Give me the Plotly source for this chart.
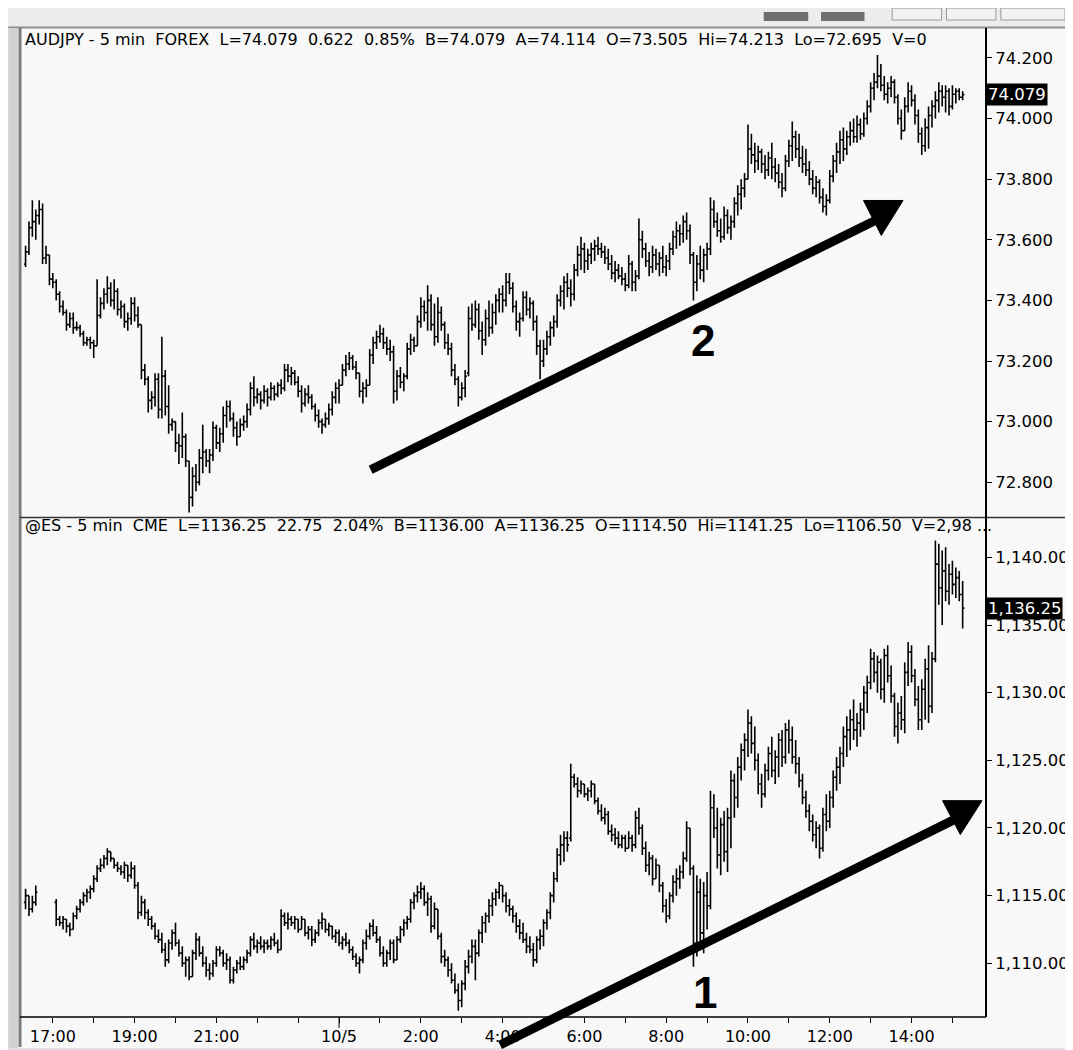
import pandas as pd
import plotly.graph_objects as go
from plotly.subplots import make_subplots

# ---------------- data ----------------
AUD_START = "2010-10-04 16:20"
AUD_LOW = [
    73.51, 73.55, 73.61, 73.60, 73.65, 73.52, 73.52, 73.45, 73.44, 73.40,
    73.36, 73.35, 73.30, 73.31, 73.29, 73.30, 73.28, 73.25, 73.25, 73.24,
    73.21, 73.25, 73.34, 73.37, 73.39, 73.38, 73.37, 73.35, 73.34, 73.31,
    73.30, 73.32, 73.33, 73.31, 73.14, 73.12, 73.03, 73.04, 73.05, 73.01,
    73.01, 73.02, 72.96, 72.97, 72.90, 72.86, 72.88, 72.85, 72.70, 72.72,
    72.77, 72.79, 72.83, 72.85, 72.83, 72.87, 72.91, 72.90, 72.93, 72.98,
    73.00, 72.95, 72.92, 72.95, 72.97, 72.98, 73.02, 73.05, 73.06, 73.04,
    73.06, 73.05, 73.07, 73.07, 73.08, 73.09, 73.10, 73.13, 73.12, 73.12,
    73.08, 73.03, 73.05, 73.06, 73.04, 73.00, 72.98, 72.96, 72.98, 72.99,
    73.02, 73.06, 73.06, 73.12, 73.15, 73.17, 73.17, 73.14, 73.08, 73.06,
    73.08, 73.12, 73.19, 73.24, 73.26, 73.24, 73.22, 73.20, 73.06, 73.07,
    73.11, 73.10, 73.14, 73.22, 73.23, 73.25, 73.31, 73.33, 73.30, 73.30,
    73.25, 73.26, 73.30, 73.24, 73.22, 73.15, 73.12, 73.05, 73.07, 73.08,
    73.15, 73.30, 73.31, 73.27, 73.22, 73.25, 73.28, 73.29, 73.32, 73.36,
    73.36, 73.38, 73.42, 73.36, 73.30, 73.28, 73.33, 73.35, 73.34, 73.30,
    73.22, 73.14, 73.18, 73.22, 73.25, 73.28, 73.31, 73.38, 73.37, 73.41,
    73.38, 73.40, 73.48, 73.50, 73.49, 73.50, 73.52, 73.53, 73.55, 73.54,
    73.52, 73.50, 73.47, 73.46, 73.47, 73.45, 73.43, 73.44, 73.43, 73.43,
    73.47, 73.54, 73.51, 73.48, 73.49, 73.50, 73.48, 73.49, 73.48, 73.50,
    73.55, 73.57, 73.58, 73.59, 73.60, 73.52, 73.40, 73.43, 73.47, 73.46,
    73.50, 73.55, 73.64, 73.61, 73.59, 73.60, 73.62, 73.60, 73.64, 73.68,
    73.70, 73.74, 73.80, 73.85, 73.82, 73.83, 73.82, 73.80, 73.81, 73.80,
    73.79, 73.77, 73.74, 73.76, 73.84, 73.86, 73.87, 73.84, 73.82, 73.81,
    73.78, 73.75, 73.74, 73.72, 73.69, 73.68, 73.72, 73.79, 73.82, 73.85,
    73.86, 73.88, 73.91, 73.92, 73.92, 73.93, 73.94, 73.98, 74.02, 74.06,
    74.10, 74.09, 74.06, 74.05, 74.07, 74.05, 73.98, 73.93, 73.96, 74.02,
    74.04, 73.98, 73.92, 73.88, 73.89, 73.90, 73.97, 74.00, 74.02, 74.04,
    74.02, 74.01, 74.03, 74.05, 74.06, 74.06,
]
AUD_HIGH = [
    73.58, 73.66, 73.73, 73.70, 73.73, 73.72, 73.58, 73.55, 73.49, 73.47,
    73.43, 73.40, 73.37, 73.36, 73.36, 73.33, 73.32, 73.30, 73.28, 73.28,
    73.27, 73.47, 73.41, 73.44, 73.48, 73.46, 73.47, 73.44, 73.40, 73.39,
    73.36, 73.41, 73.41, 73.38, 73.32, 73.19, 73.15, 73.10, 73.16, 73.16,
    73.28, 73.17, 73.12, 73.01, 73.00, 72.96, 73.03, 72.96, 72.87, 72.85,
    72.86, 72.91, 72.99, 72.91, 72.91, 73.00, 72.99, 72.98, 73.05, 73.07,
    73.07, 73.03, 73.00, 73.01, 73.02, 73.06, 73.13, 73.15, 73.11, 73.10,
    73.12, 73.11, 73.13, 73.12, 73.13, 73.14, 73.19, 73.19, 73.18, 73.17,
    73.15, 73.12, 73.11, 73.12, 73.09, 73.06, 73.04, 73.01, 73.03, 73.06,
    73.10, 73.13, 73.14, 73.19, 73.22, 73.23, 73.22, 73.20, 73.16, 73.13,
    73.14, 73.24, 73.28, 73.30, 73.32, 73.31, 73.28, 73.27, 73.25, 73.17,
    73.18, 73.16, 73.26, 73.29, 73.28, 73.35, 73.41, 73.40, 73.45, 73.42,
    73.39, 73.41, 73.38, 73.33, 73.29, 73.26, 73.19, 73.15, 73.13, 73.17,
    73.38, 73.39, 73.40, 73.39, 73.33, 73.37, 73.40, 73.39, 73.42, 73.44,
    73.45, 73.49, 73.49, 73.46, 73.40, 73.36, 73.43, 73.43, 73.41, 73.40,
    73.35, 73.27, 73.27, 73.30, 73.33, 73.35, 73.42, 73.45, 73.48, 73.49,
    73.47, 73.52, 73.58, 73.61, 73.59, 73.57, 73.59, 73.60, 73.61, 73.59,
    73.58, 73.57, 73.55, 73.53, 73.52, 73.51, 73.49, 73.55, 73.53, 73.50,
    73.67, 73.63, 73.59, 73.56, 73.58, 73.57, 73.56, 73.58, 73.55, 73.59,
    73.63, 73.66, 73.65, 73.68, 73.69, 73.65, 73.56, 73.55, 73.58, 73.57,
    73.59, 73.74, 73.73, 73.69, 73.67, 73.71, 73.70, 73.68, 73.74, 73.78,
    73.80, 73.82, 73.98, 73.95, 73.92, 73.91, 73.90, 73.88, 73.89, 73.92,
    73.87, 73.85, 73.82, 73.88, 73.93, 73.99, 73.96, 73.95, 73.91, 73.90,
    73.86, 73.83, 73.81, 73.80, 73.77, 73.75, 73.83, 73.88, 73.92, 73.96,
    73.97, 73.96, 73.99, 74.00, 74.01, 74.00, 74.02, 74.06, 74.12, 74.15,
    74.21, 74.18, 74.14, 74.12, 74.14, 74.13, 74.08, 74.03, 74.07, 74.12,
    74.11, 74.08, 74.03, 73.97, 74.00, 74.04, 74.06, 74.09, 74.12, 74.11,
    74.11, 74.10, 74.11, 74.10, 74.10, 74.09,
]
AUD_OPEN = [
    73.52, 73.56, 73.64, 73.66, 73.68, 73.70, 73.54, 73.55, 73.47, 73.46,
    73.42, 73.38, 73.36, 73.32, 73.34, 73.31, 73.31, 73.29, 73.26, 73.27,
    73.26, 73.25, 73.35, 73.39, 73.42, 73.44, 73.40, 73.43, 73.37, 73.38,
    73.33, 73.34, 73.39, 73.35, 73.32, 73.17, 73.14, 73.07, 73.08, 73.14,
    73.04, 73.15, 73.05, 72.99, 73.00, 72.93, 72.92, 72.95, 72.87, 72.75,
    72.82, 72.80, 72.88, 72.90, 72.87, 72.89, 72.98, 72.93, 72.96, 73.02,
    73.05, 73.01, 72.98, 72.95, 72.99, 73.00, 73.04, 73.11, 73.08, 73.09,
    73.07, 73.10, 73.08, 73.11, 73.09, 73.12, 73.11, 73.17, 73.15, 73.16,
    73.13, 73.10, 73.06, 73.09, 73.08, 73.05, 73.02, 73.00, 72.99, 73.01,
    73.04, 73.08, 73.11, 73.12, 73.17, 73.19, 73.21, 73.18, 73.16, 73.10,
    73.11, 73.12, 73.22, 73.26, 73.28, 73.29, 73.26, 73.24, 73.23, 73.10,
    73.15, 73.13, 73.15, 73.24, 73.27, 73.25, 73.33, 73.38, 73.36, 73.40,
    73.32, 73.28, 73.36, 73.32, 73.26, 73.24, 73.17, 73.14, 73.08, 73.11,
    73.16, 73.34, 73.32, 73.37, 73.30, 73.27, 73.34, 73.31, 73.36, 73.40,
    73.42, 73.40, 73.46, 73.44, 73.38, 73.33, 73.34, 73.41, 73.37, 73.39,
    73.33, 73.25, 73.20, 73.24, 73.28, 73.31, 73.33, 73.40, 73.43, 73.46,
    73.44, 73.42, 73.50, 73.55, 73.57, 73.53, 73.55, 73.57, 73.58, 73.57,
    73.56, 73.54, 73.52, 73.49, 73.50, 73.48, 73.47, 73.45, 73.52, 73.46,
    73.48, 73.60, 73.57, 73.53, 73.51, 73.55, 73.52, 73.54, 73.51, 73.53,
    73.57, 73.61, 73.63, 73.62, 73.66, 73.63, 73.55, 73.46, 73.52, 73.50,
    73.55, 73.57, 73.70, 73.66, 73.63, 73.61, 73.68, 73.64, 73.66, 73.72,
    73.75, 73.77, 73.80, 73.90, 73.88, 73.86, 73.89, 73.85, 73.83, 73.87,
    73.84, 73.82, 73.79, 73.77, 73.86, 73.91, 73.94, 73.90, 73.87, 73.85,
    73.83, 73.80, 73.77, 73.79, 73.74, 73.71, 73.73, 73.81, 73.86, 73.89,
    73.93, 73.90, 73.94, 73.96, 73.94, 73.98, 73.95, 74.00, 74.04, 74.10,
    74.12, 74.14, 74.11, 74.08, 74.10, 74.12, 74.07, 74.00, 73.96, 74.04,
    74.09, 74.06, 74.01, 73.95, 73.91, 73.97, 74.01, 74.04, 74.06, 74.09,
    74.07, 74.09, 74.04, 74.08, 74.09, 74.07,
]
AUD_CLOSE = [
    73.56, 73.64, 73.66, 73.68, 73.70, 73.54, 73.55, 73.47, 73.46, 73.42,
    73.38, 73.36, 73.32, 73.34, 73.31, 73.31, 73.29, 73.26, 73.27, 73.26,
    73.25, 73.35, 73.39, 73.42, 73.44, 73.40, 73.43, 73.37, 73.38, 73.33,
    73.34, 73.39, 73.35, 73.32, 73.17, 73.14, 73.07, 73.08, 73.14, 73.04,
    73.15, 73.05, 72.99, 73.00, 72.93, 72.92, 72.95, 72.87, 72.75, 72.82,
    72.80, 72.88, 72.90, 72.87, 72.89, 72.98, 72.93, 72.96, 73.02, 73.05,
    73.01, 72.98, 72.95, 72.99, 73.00, 73.04, 73.11, 73.08, 73.09, 73.07,
    73.10, 73.08, 73.11, 73.09, 73.12, 73.11, 73.17, 73.15, 73.16, 73.13,
    73.10, 73.06, 73.09, 73.08, 73.05, 73.02, 73.00, 72.99, 73.01, 73.04,
    73.08, 73.11, 73.12, 73.17, 73.19, 73.21, 73.18, 73.16, 73.10, 73.11,
    73.12, 73.22, 73.26, 73.28, 73.29, 73.26, 73.24, 73.23, 73.10, 73.15,
    73.13, 73.15, 73.24, 73.27, 73.25, 73.33, 73.38, 73.36, 73.40, 73.32,
    73.28, 73.36, 73.32, 73.26, 73.24, 73.17, 73.14, 73.08, 73.11, 73.15,
    73.34, 73.32, 73.37, 73.30, 73.27, 73.34, 73.31, 73.36, 73.40, 73.42,
    73.40, 73.46, 73.44, 73.38, 73.33, 73.34, 73.41, 73.37, 73.39, 73.33,
    73.25, 73.20, 73.24, 73.28, 73.31, 73.33, 73.40, 73.43, 73.46, 73.44,
    73.42, 73.50, 73.55, 73.57, 73.53, 73.55, 73.57, 73.58, 73.57, 73.56,
    73.54, 73.52, 73.49, 73.50, 73.48, 73.47, 73.45, 73.52, 73.46, 73.48,
    73.60, 73.57, 73.53, 73.51, 73.55, 73.52, 73.54, 73.51, 73.53, 73.57,
    73.61, 73.63, 73.62, 73.66, 73.63, 73.55, 73.46, 73.52, 73.50, 73.55,
    73.57, 73.70, 73.66, 73.63, 73.61, 73.68, 73.64, 73.66, 73.72, 73.75,
    73.77, 73.80, 73.90, 73.88, 73.86, 73.89, 73.85, 73.83, 73.87, 73.84,
    73.82, 73.79, 73.77, 73.86, 73.91, 73.94, 73.90, 73.87, 73.85, 73.83,
    73.80, 73.77, 73.79, 73.74, 73.71, 73.73, 73.81, 73.86, 73.89, 73.93,
    73.90, 73.94, 73.96, 73.94, 73.98, 73.95, 74.00, 74.04, 74.10, 74.12,
    74.14, 74.11, 74.08, 74.10, 74.12, 74.07, 74.00, 73.96, 74.04, 74.09,
    74.06, 74.01, 73.95, 73.91, 73.97, 74.01, 74.04, 74.06, 74.09, 74.07,
    74.09, 74.04, 74.08, 74.09, 74.07, 74.079,
]

# ES: 4 bars before the session break, then continuous from 17:05
ES_START_1, ES_COUNT_1 = "2010-10-04 16:20", 4
ES_START_2 = "2010-10-04 17:05"
ES_LOW = [
    1114.00, 1113.50, 1113.75, 1114.25,
    1112.75, 1112.75, 1112.50, 1112.25, 1112.00, 1112.50, 1113.25, 1113.75, 1114.25, 1114.50,
    1114.75, 1115.25, 1116.00, 1116.75, 1117.00, 1117.25, 1117.50, 1117.00, 1116.75, 1116.50,
    1116.25, 1116.00, 1116.25, 1115.50, 1113.25, 1113.50, 1113.25, 1112.75, 1112.50, 1111.75,
    1111.50, 1110.75, 1109.75, 1110.00, 1111.00, 1111.25, 1110.50, 1109.75, 1109.00, 1108.75,
    1109.00, 1110.25, 1110.50, 1109.75, 1109.00, 1108.75, 1109.00, 1109.75, 1110.50, 1109.75,
    1109.50, 1108.50, 1108.50, 1109.25, 1109.50, 1109.50, 1110.00, 1110.50, 1111.00, 1110.75,
    1111.00, 1110.75, 1111.00, 1111.00, 1111.25, 1110.75, 1111.00, 1112.75, 1112.50, 1112.75,
    1112.50, 1112.25, 1112.50, 1112.00, 1111.75, 1111.25, 1111.50, 1112.00, 1112.50, 1112.25,
    1112.00, 1111.75, 1111.50, 1111.25, 1111.00, 1111.25, 1110.75, 1110.25, 1109.75, 1109.25,
    1110.00, 1111.00, 1111.75, 1112.00, 1111.50, 1110.50, 1109.75, 1109.75, 1110.25, 1110.00,
    1110.25, 1111.50, 1112.00, 1112.50, 1113.00, 1114.00, 1114.50, 1114.75, 1114.25, 1113.50,
    1112.25, 1112.50, 1111.75, 1110.00, 1109.75, 1109.00, 1108.50, 1107.75, 1106.50, 1106.75,
    1108.00, 1109.25, 1110.00, 1108.75, 1110.50, 1111.50, 1112.25, 1113.00, 1113.50, 1114.25,
    1114.75, 1114.50, 1113.75, 1113.50, 1113.00, 1112.25, 1111.75, 1111.50, 1110.75, 1110.75,
    1109.75, 1110.00, 1111.00, 1111.25, 1112.50, 1113.25, 1114.50, 1116.00, 1117.25, 1117.50,
    1118.25, 1119.00, 1123.00, 1122.25, 1122.50, 1122.25, 1122.00, 1122.25, 1121.75, 1121.00,
    1120.50, 1120.25, 1119.50, 1119.00, 1118.75, 1118.50, 1118.50, 1118.25, 1118.50, 1118.25,
    1118.50, 1119.50, 1118.00, 1116.75, 1116.50, 1115.75, 1116.25, 1115.25, 1113.75, 1113.00,
    1113.25, 1114.50, 1115.00, 1115.50, 1116.25, 1117.50, 1116.50, 1109.75, 1110.50, 1111.00,
    1110.75, 1112.50, 1114.00, 1119.25, 1117.00, 1116.50, 1117.50, 1116.75, 1118.50, 1120.75,
    1121.50, 1123.50, 1124.25, 1125.25, 1125.50, 1124.25, 1122.50, 1121.50, 1122.25, 1123.50,
    1123.75, 1123.25, 1123.75, 1124.50, 1124.75, 1125.50, 1124.75, 1124.00, 1123.00, 1121.75,
    1120.75, 1119.75, 1119.00, 1118.50, 1117.75, 1118.25, 1119.75, 1120.00, 1121.50, 1122.75,
    1123.25, 1124.50, 1125.25, 1125.75, 1126.50, 1126.00, 1126.75, 1127.25, 1128.50, 1130.25,
    1130.75, 1130.00, 1129.50, 1129.25, 1130.75, 1129.25, 1126.75, 1126.25, 1127.25, 1127.00,
    1130.50, 1130.75, 1129.00, 1127.25, 1127.25, 1128.00, 1127.75, 1128.50, 1132.25, 1136.50,
    1135.00, 1136.75, 1136.50, 1137.25, 1137.00, 1136.75, 1134.75,
]
ES_HIGH = [
    1115.50, 1115.00, 1115.00, 1115.75,
    1114.75, 1113.50, 1113.50, 1113.25, 1113.00, 1113.75, 1114.25, 1114.75, 1115.25, 1115.50,
    1115.75, 1116.50, 1117.25, 1117.75, 1118.00, 1118.50, 1118.25, 1117.75, 1117.50, 1117.25,
    1117.50, 1117.25, 1117.50, 1117.25, 1116.00, 1115.00, 1114.75, 1114.00, 1113.50, 1113.00,
    1112.50, 1112.25, 1111.50, 1111.75, 1112.50, 1113.00, 1111.75, 1111.25, 1110.50, 1110.50,
    1111.00, 1112.25, 1112.00, 1111.25, 1110.50, 1110.00, 1110.25, 1111.25, 1111.25, 1111.00,
    1110.75, 1110.50, 1109.75, 1110.25, 1110.50, 1110.50, 1111.00, 1112.00, 1112.25, 1111.75,
    1112.00, 1111.75, 1111.75, 1112.00, 1112.25, 1111.75, 1114.00, 1113.75, 1113.75, 1113.50,
    1113.50, 1113.25, 1113.50, 1113.25, 1112.75, 1112.75, 1112.50, 1113.25, 1113.75, 1113.25,
    1113.00, 1112.75, 1112.50, 1112.50, 1112.00, 1112.25, 1111.75, 1111.25, 1110.75, 1110.50,
    1111.75, 1112.50, 1113.00, 1113.25, 1112.75, 1112.00, 1111.25, 1111.00, 1111.75, 1111.75,
    1112.00, 1112.75, 1113.25, 1113.50, 1114.75, 1115.25, 1115.75, 1116.00, 1115.75, 1115.25,
    1115.00, 1114.50, 1114.00, 1112.25, 1111.00, 1110.50, 1110.00, 1109.25, 1108.50, 1108.75,
    1110.25, 1111.00, 1111.75, 1111.75, 1112.50, 1113.50, 1113.75, 1114.75, 1115.25, 1115.50,
    1116.00, 1115.75, 1115.25, 1114.75, 1114.25, 1113.75, 1113.25, 1113.00, 1112.25, 1112.00,
    1111.50, 1112.00, 1112.50, 1113.25, 1114.00, 1115.25, 1116.75, 1118.50, 1119.50, 1119.75,
    1119.75, 1124.75, 1124.00, 1123.75, 1123.50, 1123.25, 1123.00, 1123.50, 1123.25, 1122.25,
    1121.75, 1121.50, 1121.25, 1120.25, 1120.00, 1119.75, 1119.50, 1119.50, 1119.75, 1119.50,
    1121.25, 1121.50, 1120.25, 1119.00, 1118.25, 1118.00, 1117.75, 1117.25, 1116.00, 1114.75,
    1115.25, 1116.50, 1117.00, 1117.25, 1118.25, 1120.50, 1120.00, 1117.25, 1116.50, 1116.25,
    1116.00, 1116.75, 1122.75, 1122.50, 1121.50, 1120.75, 1121.25, 1121.50, 1124.25, 1124.00,
    1125.25, 1126.25, 1127.00, 1128.75, 1128.25, 1127.50, 1125.50, 1124.00, 1124.75, 1126.00,
    1126.75, 1125.75, 1127.00, 1127.25, 1127.75, 1128.00, 1127.50, 1126.50, 1125.25, 1124.00,
    1122.75, 1121.75, 1121.00, 1120.50, 1120.25, 1121.50, 1122.50, 1122.75, 1124.25, 1125.25,
    1126.00, 1127.50, 1128.25, 1128.75, 1129.50, 1128.50, 1129.25, 1130.50, 1131.25, 1133.25,
    1133.00, 1132.75, 1132.50, 1133.25, 1133.50, 1132.00, 1130.00, 1129.25, 1129.75, 1132.25,
    1133.75, 1133.50, 1131.75, 1130.50, 1131.00, 1132.50, 1133.50, 1133.00, 1141.25, 1141.00,
    1140.50, 1140.75, 1139.50, 1139.75, 1139.25, 1139.00, 1138.25,
]
ES_OPEN = [
    1114.50, 1115.00, 1114.00, 1114.50,
    1114.50, 1113.25, 1113.00, 1113.25, 1112.75, 1112.50, 1113.50, 1114.00, 1114.50, 1115.00,
    1115.25, 1115.50, 1116.25, 1117.00, 1117.25, 1117.75, 1118.25, 1117.75, 1117.25, 1117.00,
    1116.75, 1117.25, 1116.50, 1117.00, 1115.75, 1113.75, 1114.50, 1113.75, 1113.25, 1112.75,
    1112.00, 1111.75, 1111.00, 1110.25, 1111.50, 1112.25, 1111.50, 1110.75, 1110.00, 1110.25,
    1109.00, 1110.75, 1111.75, 1110.75, 1110.00, 1109.50, 1109.25, 1110.00, 1111.00, 1110.75,
    1110.00, 1110.25, 1108.75, 1109.50, 1110.00, 1109.75, 1110.25, 1110.75, 1111.75, 1111.25,
    1111.50, 1111.25, 1111.50, 1111.25, 1111.75, 1111.50, 1111.00, 1113.50, 1113.00, 1113.25,
    1113.00, 1113.25, 1112.50, 1113.25, 1112.25, 1112.50, 1111.75, 1112.25, 1113.00, 1113.25,
    1112.50, 1112.75, 1112.00, 1112.25, 1111.50, 1111.75, 1111.50, 1111.00, 1110.50, 1110.00,
    1110.25, 1111.50, 1112.00, 1112.75, 1112.25, 1111.75, 1110.75, 1110.00, 1110.75, 1111.50,
    1110.25, 1111.75, 1112.50, 1113.00, 1113.25, 1114.50, 1115.00, 1115.25, 1115.50, 1114.50,
    1114.75, 1112.75, 1114.00, 1112.00, 1110.50, 1110.25, 1109.50, 1108.75, 1108.00, 1107.25,
    1108.50, 1109.75, 1110.50, 1111.25, 1110.75, 1112.25, 1113.00, 1113.50, 1114.25, 1114.75,
    1115.25, 1115.75, 1115.00, 1114.25, 1114.00, 1113.50, 1112.75, 1112.25, 1111.75, 1111.25,
    1111.00, 1110.25, 1111.75, 1112.00, 1113.00, 1113.75, 1115.00, 1116.25, 1118.00, 1118.75,
    1119.25, 1119.25, 1123.75, 1123.25, 1122.75, 1123.25, 1122.50, 1122.75, 1123.25, 1122.00,
    1121.25, 1120.75, 1121.00, 1119.75, 1119.50, 1119.25, 1118.75, 1119.25, 1118.50, 1119.25,
    1118.75, 1120.75, 1120.00, 1118.50, 1117.25, 1117.75, 1116.25, 1117.25, 1115.75, 1114.25,
    1113.50, 1115.00, 1116.00, 1116.25, 1116.75, 1117.75, 1120.00, 1117.00, 1111.50, 1115.25,
    1112.25, 1115.00, 1114.25, 1121.50, 1120.00, 1118.00, 1120.25, 1118.25, 1120.75, 1123.50,
    1122.25, 1124.50, 1125.75, 1126.50, 1127.75, 1126.25, 1125.00, 1123.25, 1122.50, 1124.25,
    1125.50, 1124.25, 1125.25, 1126.50, 1125.25, 1127.25, 1126.50, 1125.25, 1124.75, 1123.50,
    1122.25, 1121.25, 1120.50, 1119.50, 1120.00, 1118.50, 1121.00, 1120.50, 1122.25, 1123.75,
    1124.50, 1125.50, 1126.75, 1127.25, 1128.00, 1127.25, 1127.75, 1128.75, 1130.00, 1130.75,
    1132.50, 1131.50, 1132.25, 1130.25, 1132.75, 1131.25, 1129.75, 1127.50, 1128.50, 1128.00,
    1131.50, 1133.00, 1131.25, 1129.50, 1128.00, 1130.25, 1131.75, 1129.00, 1132.50, 1139.50,
    1137.75, 1139.00, 1137.50, 1138.75, 1138.00, 1138.50, 1137.25,
]
ES_CLOSE = [
    1115.00, 1114.00, 1114.50, 1115.25,
    1113.25, 1113.00, 1113.25, 1112.75, 1112.50, 1113.50, 1114.00, 1114.50, 1115.00, 1115.25,
    1115.50, 1116.25, 1117.00, 1117.25, 1117.75, 1118.25, 1117.75, 1117.25, 1117.00, 1116.75,
    1117.25, 1116.50, 1117.00, 1115.75, 1113.75, 1114.50, 1113.75, 1113.25, 1112.75, 1112.00,
    1111.75, 1111.00, 1110.25, 1111.50, 1112.25, 1111.50, 1110.75, 1110.00, 1110.25, 1109.00,
    1110.75, 1111.75, 1110.75, 1110.00, 1109.50, 1109.25, 1110.00, 1111.00, 1110.75, 1110.00,
    1110.25, 1108.75, 1109.50, 1110.00, 1109.75, 1110.25, 1110.75, 1111.75, 1111.25, 1111.50,
    1111.25, 1111.50, 1111.25, 1111.75, 1111.50, 1111.00, 1113.50, 1113.00, 1113.25, 1113.00,
    1113.25, 1112.50, 1113.25, 1112.25, 1112.50, 1111.75, 1112.25, 1113.00, 1113.25, 1112.50,
    1112.75, 1112.00, 1112.25, 1111.50, 1111.75, 1111.50, 1111.00, 1110.50, 1110.00, 1110.25,
    1111.50, 1112.00, 1112.75, 1112.25, 1111.75, 1110.75, 1110.00, 1110.75, 1111.50, 1110.25,
    1111.75, 1112.50, 1113.00, 1113.25, 1114.50, 1115.00, 1115.25, 1115.50, 1114.50, 1114.75,
    1112.75, 1114.00, 1112.00, 1110.50, 1110.25, 1109.50, 1108.75, 1108.00, 1107.25, 1108.50,
    1109.75, 1110.50, 1111.25, 1110.75, 1112.25, 1113.00, 1113.50, 1114.25, 1114.75, 1115.25,
    1115.75, 1115.00, 1114.25, 1114.00, 1113.50, 1112.75, 1112.25, 1111.75, 1111.25, 1111.00,
    1110.25, 1111.75, 1112.00, 1113.00, 1113.75, 1115.00, 1116.25, 1118.00, 1118.75, 1119.25,
    1118.75, 1123.75, 1123.25, 1122.75, 1123.25, 1122.50, 1122.75, 1123.25, 1122.00, 1121.25,
    1120.75, 1121.00, 1119.75, 1119.50, 1119.25, 1118.75, 1119.25, 1118.50, 1119.25, 1118.75,
    1120.75, 1120.00, 1118.50, 1117.25, 1117.75, 1116.25, 1117.25, 1115.75, 1114.25, 1113.50,
    1115.00, 1116.00, 1116.25, 1116.75, 1117.75, 1120.00, 1117.00, 1111.50, 1115.25, 1112.25,
    1115.00, 1114.25, 1121.50, 1120.00, 1118.00, 1120.25, 1118.25, 1120.75, 1123.50, 1122.25,
    1124.50, 1125.75, 1126.50, 1127.75, 1126.25, 1125.00, 1123.25, 1122.50, 1124.25, 1125.50,
    1124.25, 1125.25, 1126.50, 1125.25, 1127.25, 1126.50, 1125.25, 1124.75, 1123.50, 1122.25,
    1121.25, 1120.50, 1119.50, 1120.00, 1118.50, 1121.00, 1120.50, 1122.25, 1123.75, 1124.50,
    1125.50, 1126.75, 1127.25, 1128.00, 1127.25, 1127.75, 1128.75, 1130.00, 1130.75, 1132.50,
    1131.50, 1132.25, 1130.25, 1132.75, 1131.25, 1129.75, 1127.50, 1128.50, 1128.00, 1131.50,
    1133.00, 1131.25, 1129.50, 1128.00, 1130.25, 1131.75, 1129.00, 1132.50, 1139.50, 1137.75,
    1139.00, 1137.50, 1138.75, 1138.00, 1138.50, 1137.25, 1136.25,
]

AUD_TICKS = [72.8, 73.0, 73.2, 73.4, 73.6, 73.8, 74.0, 74.2]
ES_TICKS = [1110, 1115, 1120, 1125, 1130, 1135, 1140]
AUD_LAST, ES_LAST = 74.079, 1136.25
X_TICK_TIMES = [
    "2010-10-04 17:00", "2010-10-04 18:00", "2010-10-04 19:00", "2010-10-04 20:00",
    "2010-10-04 21:00", "2010-10-04 22:00", "2010-10-04 23:00", "2010-10-05 00:00",
    "2010-10-05 01:00", "2010-10-05 02:00", "2010-10-05 03:00", "2010-10-05 04:00",
    "2010-10-05 05:00", "2010-10-05 06:00", "2010-10-05 07:00", "2010-10-05 08:00",
    "2010-10-05 09:00", "2010-10-05 10:00", "2010-10-05 11:00", "2010-10-05 12:00",
    "2010-10-05 13:00", "2010-10-05 14:00", "2010-10-05 15:00",
]
X_TICK_LABELS = [
    "17:00", "", "19:00", "", "21:00", "", "", "10/5", "", "2:00", "", "4:00",
    "", "6:00", "", "8:00", "", "10:00", "", "12:00", "", "14:00", "",
]
AUD_HEADER = ["AUDJPY - 5 min", "FOREX", "L=74.079", "0.622", "0.85%", "B=74.079",
              "A=74.114", "O=73.505", "Hi=74.213", "Lo=72.695", "V=0"]
ES_HEADER = ["@ES - 5 min", "CME", "L=1136.25", "22.75", "2.04%", "B=1136.00",
             "A=1136.25", "O=1114.50", "Hi=1141.25", "Lo=1106.50", "V=2,98 ..."]

assert len(AUD_LOW) == len(AUD_HIGH) == len(AUD_OPEN) == len(AUD_CLOSE) == 276
assert len(ES_LOW) == len(ES_HIGH) == len(ES_OPEN) == len(ES_CLOSE) == 271

aud_x = pd.date_range(AUD_START, periods=len(AUD_LOW), freq="5min")
es_x = list(pd.date_range(ES_START_1, periods=ES_COUNT_1, freq="5min")) + \
       list(pd.date_range(ES_START_2, periods=len(ES_LOW) - ES_COUNT_1, freq="5min"))

# ---------------- layout geometry (pixels) ----------------
W_FIG, H_FIG = 1073, 1050
ML, MR, MT, MB = 14, 83, 22, 38
PW, PH = W_FIG - ML - MR, H_FIG - MT - MB


def PX(x):
    return (x - ML) / PW


def PY(y):
    return (H_FIG - MB - y) / PH


FONT = "DejaVu Sans, Verdana, sans-serif"
BG = "#f8f8f8"

fig = make_subplots(rows=2, cols=1, shared_xaxes=True)

bar_style = dict(line=dict(color="black", width=1.6))
fig.add_trace(go.Ohlc(x=aud_x, open=AUD_OPEN, high=AUD_HIGH, low=AUD_LOW, close=AUD_CLOSE,
                      increasing=bar_style, decreasing=bar_style, tickwidth=0.5,
                      hoverinfo="skip", showlegend=False), row=1, col=1)
fig.add_trace(go.Ohlc(x=es_x, open=ES_OPEN, high=ES_HIGH, low=ES_LOW, close=ES_CLOSE,
                      increasing=bar_style, decreasing=bar_style, tickwidth=0.5,
                      hoverinfo="skip", showlegend=False), row=2, col=1)

x_range = ["2010-10-04 16:14:47", "2010-10-05 15:49:16"]
yax_common = dict(side="right", showgrid=False, zeroline=False, showline=False,
                  ticks="outside", ticklen=5, tickcolor="black", tickwidth=1,
                  tickfont=dict(family=FONT, size=16.5, color="black"), fixedrange=True)

fig.update_layout(
    width=W_FIG, height=H_FIG,
    margin=dict(l=ML, r=MR, t=MT, b=MB),
    paper_bgcolor=BG, plot_bgcolor=BG,
    showlegend=False,
    xaxis=dict(domain=[0, 1], range=x_range, showticklabels=False, ticks="",
               showgrid=False, zeroline=False, showline=False,
               rangeslider=dict(visible=False)),
    xaxis2=dict(domain=[0, 1], range=x_range, tickvals=X_TICK_TIMES, ticktext=X_TICK_LABELS,
                ticks="outside", ticklen=5, tickcolor="black", tickwidth=1,
                tickfont=dict(family=FONT, size=16, color="black"),
                showgrid=False, zeroline=False, showline=False,
                rangeslider=dict(visible=False)),
    yaxis=dict(domain=[PY(511), 1], range=[72.6836, 74.2921], tickvals=AUD_TICKS,
               tickformat=".3f", **yax_common),
    yaxis2=dict(domain=[0, PY(512)], range=[1106.03, 1142.87], tickvals=ES_TICKS,
                tickformat=",.2f", **yax_common),
)

shapes = []
# window frame pieces
shapes.append(dict(type="rect", xref="paper", yref="paper", x0=PX(0), x1=PX(W_FIG),
                   y0=PY(0), y1=PY(19), fillcolor="#ececec", line=dict(width=0), layer="below"))
shapes.append(dict(type="line", xref="paper", yref="paper", x0=PX(0), x1=PX(W_FIG),
                   y0=PY(19.5), y1=PY(19.5), line=dict(color="#8c8c8c", width=2)))
shapes.append(dict(type="rect", xref="paper", yref="paper", x0=PX(0), x1=PX(10),
                   y0=PY(20), y1=PY(H_FIG), fillcolor="#d2d2d2", line=dict(width=0)))
shapes.append(dict(type="line", xref="paper", yref="paper", x0=PX(12), x1=PX(12),
                   y0=PY(20), y1=PY(1042), line=dict(color="#7c7c7c", width=3)))
shapes.append(dict(type="rect", xref="paper", yref="paper", x0=PX(0), x1=PX(W_FIG),
                   y0=PY(1043), y1=PY(H_FIG), fillcolor="#e2e2e2", line=dict(width=0)))
for (bx0, bx1) in [(765, 810), (823, 867)]:
    shapes.append(dict(type="rect", xref="paper", yref="paper", x0=PX(bx0), x1=PX(bx1),
                       y0=PY(4), y1=PY(13), fillcolor="#6e6e6e", line=dict(width=0)))
for (bx0, bx1) in [(895, 945), (950, 1000), (1005, 1070)]:
    shapes.append(dict(type="rect", xref="paper", yref="paper", x0=PX(bx0), x1=PX(bx1),
                       y0=PY(0), y1=PY(12), fillcolor="#f2f2f2",
                       line=dict(color="#9a9a9a", width=1)))
# panel separator, right axis line, bottom axis line
shapes.append(dict(type="line", xref="paper", yref="paper", x0=PX(12), x1=PX(W_FIG),
                   y0=PY(511), y1=PY(511), line=dict(color="#333333", width=1.5)))
shapes.append(dict(type="line", xref="paper", yref="paper", x0=PX(990), x1=PX(990),
                   y0=PY(20), y1=PY(1012), line=dict(color="black", width=2)))
shapes.append(dict(type="line", xref="paper", yref="paper", x0=PX(12), x1=PX(990),
                   y0=PY(1012), y1=PY(1012), line=dict(color="black", width=1.5)))
# longer date tick at 10/5
shapes.append(dict(type="line", xref="x2", yref="paper", x0="2010-10-05 00:00",
                   x1="2010-10-05 00:00", y0=PY(1012), y1=PY(1023),
                   line=dict(color="black", width=1)))
# hand-drawn arrows
shapes.append(dict(type="line", xref="paper", yref="paper", x0=PX(367), y0=PY(463),
                   x1=PX(882), y1=PY(211), line=dict(color="black", width=9)))
shapes.append(dict(type="path", xref="paper", yref="paper",
                   path=f"M {PX(866)} {PY(193)} L {PX(906)} {PY(193)} L {PX(884)} {PY(228)} Z",
                   fillcolor="black", line=dict(color="black", width=1)))
shapes.append(dict(type="line", xref="paper", yref="paper", x0=PX(498), y0=PY(1040),
                   x1=PX(964), y1=PY(811), line=dict(color="black", width=9)))
shapes.append(dict(type="path", xref="paper", yref="paper",
                   path=f"M {PX(946)} {PY(795)} L {PX(986)} {PY(795)} L {PX(964)} {PY(829)} Z",
                   fillcolor="black", line=dict(color="black", width=1)))
fig.update_layout(shapes=shapes)

SEP = "\u00a0\u00a0"
annotations = [
    dict(text=SEP.join(AUD_HEADER), xref="paper", yref="paper", x=PX(15), y=PY(32),
         xanchor="left", yanchor="middle", showarrow=False,
         font=dict(family=FONT, size=16, color="black")),
    dict(text=SEP.join(ES_HEADER), xref="paper", yref="paper", x=PX(15), y=PY(519),
         xanchor="left", yanchor="middle", showarrow=False,
         font=dict(family=FONT, size=16, color="black")),
    dict(text=f"{AUD_LAST:.3f}", xref="paper", yref="y", x=1.0, y=AUD_LAST,
         xanchor="left", yanchor="middle", showarrow=False, bgcolor="black",
         borderpad=1, font=dict(family=FONT, size=16.5, color="white")),
    dict(text=f"{ES_LAST:,.2f}", xref="paper", yref="y2", x=1.0, y=ES_LAST,
         xanchor="left", yanchor="middle", showarrow=False, bgcolor="black",
         borderpad=1, font=dict(family=FONT, size=16.5, color="white")),
    dict(text="<b>2</b>", xref="paper", yref="paper", x=PX(703), y=PY(333),
         xanchor="center", yanchor="middle", showarrow=False,
         font=dict(family="Liberation Sans, Arial, sans-serif", size=44, color="black")),
    dict(text="<b>1</b>", xref="paper", yref="paper", x=PX(706), y=PY(987),
         xanchor="center", yanchor="middle", showarrow=False,
         font=dict(family="Liberation Sans, Arial, sans-serif", size=44, color="black")),
]
fig.update_layout(annotations=annotations)

fig.write_html("out.html")
